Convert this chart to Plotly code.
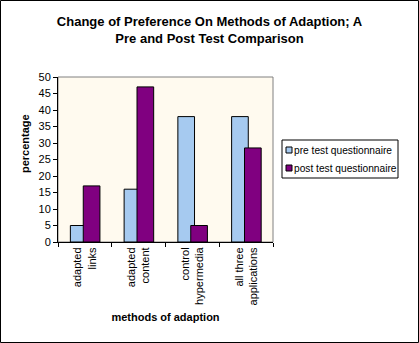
import plotly.graph_objects as go

categories = ["adapted<br>links", "adapted<br>content", "control<br>hypermedia", "all three<br>applications"]
series_names = ["pre test questionnaire", "post test questionnaire"]
pre_test = [5, 16, 38, 38]
post_test = [17, 47, 5, 28.5]
y_ticks = list(range(0, 55, 5))
colors = ["#A6CAF0", "#800080"]

FONT = "Liberation Sans, Arial, sans-serif"
L, R, T, B = 58, 146, 77, 101
W, H = 419, 343
pw, ph = W - L - R, H - T - B


def px_x(x):
    return (x - L) / pw


def px_y(y):
    return (H - B - y) / ph


fig = go.Figure()
for vals, name, col, off in [(pre_test, series_names[0], colors[0], -0.27),
                             (post_test, series_names[1], colors[1], -0.03)]:
    fig.add_trace(go.Bar(x=categories, y=vals, name=name, showlegend=False,
                         marker=dict(color=col, line=dict(color="black", width=1)),
                         width=0.31, offset=off))

shapes = [
    dict(type="rect", xref="paper", yref="paper", x0=0, x1=1, y0=0, y1=1,
         line=dict(color="#808080", width=1), fillcolor="#FFFAEF", layer="below"),
    dict(type="rect", xref="paper", yref="paper",
         x0=px_x(0.5), x1=px_x(W - 0.5), y0=px_y(H - 0.5), y1=px_y(0.5),
         line=dict(color="black", width=1), fillcolor="rgba(0,0,0,0)"),
    # legend box
    dict(type="rect", xref="paper", yref="paper",
         x0=px_x(282), x1=px_x(398), y0=px_y(178), y1=px_y(140),
         line=dict(color="black", width=1), fillcolor="white"),
]
annotations = []
for i, (name, col) in enumerate(zip(series_names, colors)):
    cy = 150 + 18 * i
    shapes.append(dict(type="rect", xref="paper", yref="paper",
                       x0=px_x(286), x1=px_x(292), y0=px_y(cy + 3), y1=px_y(cy - 3),
                       line=dict(color="black", width=1), fillcolor=col))
    annotations.append(dict(text=name, xref="paper", yref="paper", x=px_x(292), y=px_y(cy),
                            xanchor="left", yanchor="middle", showarrow=False,
                            font=dict(family=FONT, size=10.2, color="black")))

annotations.append(dict(text="<b>percentage</b>", xref="paper", yref="paper",
                        x=px_x(25), y=px_y(144), xanchor="center", yanchor="middle",
                        textangle=-90, showarrow=False,
                        font=dict(family=FONT, size=11, color="black")))

fig.update_layout(
    width=W, height=H,
    margin=dict(l=L, r=R, t=T, b=B, pad=0),
    paper_bgcolor="white", plot_bgcolor="rgba(0,0,0,0)",
    barmode="overlay", showlegend=False,
    font=dict(family=FONT, size=11, color="black"),
    title=dict(text="<b>Change of Preference On Methods of Adaption; A<br>Pre and Post Test Comparison</b>",
               x=0.5, xanchor="center", y=0.923, yanchor="top",
               font=dict(family=FONT, size=13, color="black")),
    xaxis=dict(type="category", showline=True, linecolor="black", linewidth=1,
               ticks="outside", ticklen=4, tickcolor="black", tickson="boundaries",
               tickangle=-90, tickfont=dict(size=11), showgrid=False,
               title=dict(text="<b>methods of adaption</b>", font=dict(size=11), standoff=8)),
    yaxis=dict(range=[0, 50], tickvals=y_ticks, showline=True, linecolor="black", linewidth=1,
               ticks="outside", ticklen=4, tickcolor="black", showgrid=False, zeroline=False,
               tickfont=dict(size=11)),
    shapes=shapes,
    annotations=annotations,
)

fig.write_html("out.html")
